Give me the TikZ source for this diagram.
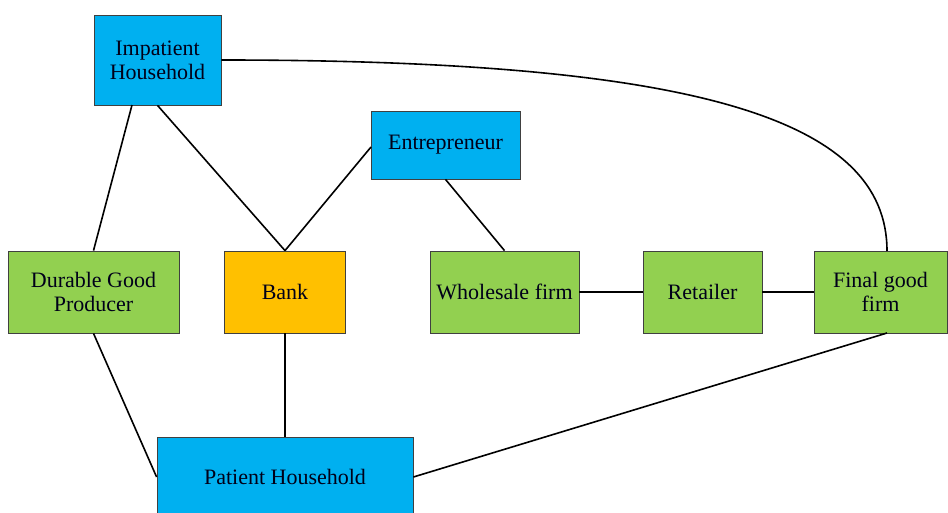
\documentclass[tikz,border=0pt]{standalone}
\usepackage{fontspec}
\setmainfont{Liberation Serif}
\definecolor{hblue}{HTML}{00B0F0}
\definecolor{hgreen}{HTML}{92D050}
\definecolor{horange}{HTML}{FFC000}
\definecolor{hedge}{HTML}{404040}
\begin{document}
\begin{tikzpicture}[x=1pt,y=-1pt,
  box/.style={draw=hedge, line width=0.8pt, inner sep=0pt, align=center,
    font=\fontsize{22}{24}\selectfont, text=black!90!blue},
  bluebox/.style={box, fill=hblue},
  greenbox/.style={box, fill=hgreen},
  orangebox/.style={box, fill=horange},
  link/.style={line width=1.6pt, black}]
\useasboundingbox (0,0) rectangle (948,513);
\node[bluebox, minimum width=127pt, minimum height=90pt] (imp) at (157.5,60) {Impatient\\Household};
\node[bluebox, minimum width=149pt, minimum height=68pt] (ent) at (445.5,145) {Entrepreneur};
\node[greenbox, minimum width=171pt, minimum height=82pt] (dur) at (93.5,292) {Durable Good\\Producer};
\node[orangebox, minimum width=121pt, minimum height=82pt] (bank) at (285,292) {Bank};
\node[greenbox, minimum width=149pt, minimum height=82pt] (whole) at (504.5,292) {Wholesale firm};
\node[greenbox, minimum width=119pt, minimum height=82pt] (ret) at (702.5,292) {Retailer};
\node[greenbox, minimum width=133pt, minimum height=82pt] (fin) at (880.5,292) {Final good\\firm};
\node[bluebox, minimum width=256pt, minimum height=80pt] (pat) at (285,477) {Patient Household};
\coordinate (finTop) at (887,251);
\coordinate (finBot) at (887,333);
\coordinate (impA) at (132,105);
\coordinate (entW) at (371,147);
\draw[link] (impA) -- (dur.north);
\draw[link] (imp.south) -- (bank.north);
\draw[link] (entW) -- (bank.north);
\draw[link] (ent.south) -- (whole.north);
\draw[link] (whole.east) -- (ret.west);
\draw[link] (ret.east) -- (fin.west);
\draw[link] (imp.east) .. controls (700,60) and (887,120) .. (finTop);
\draw[link] (bank.south) -- (pat.north);
\draw[link] (dur.south) -- (pat.west);
\draw[link] (pat.east) -- (finBot);
\end{tikzpicture}
\end{document}
